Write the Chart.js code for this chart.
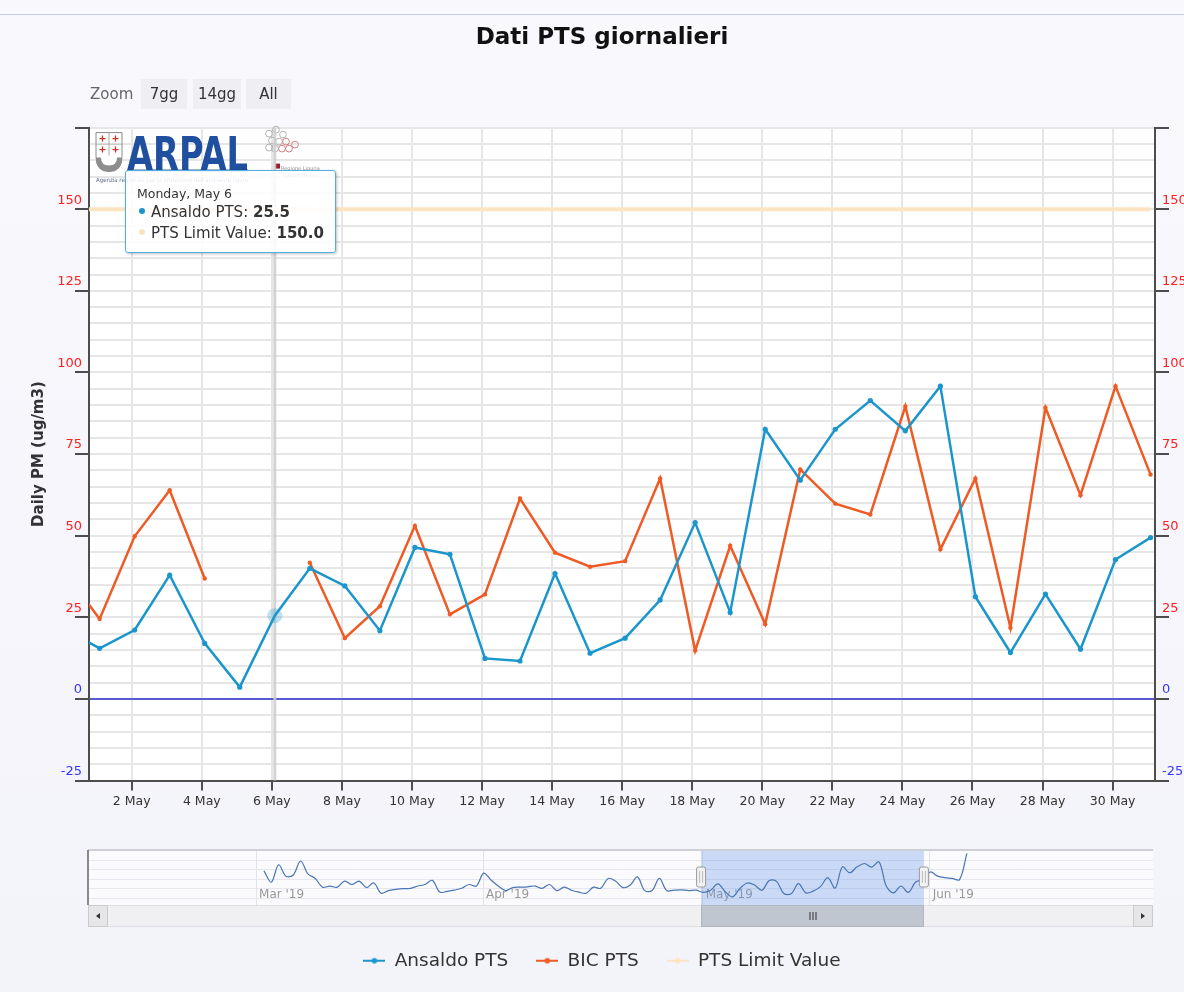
<!DOCTYPE html>
<html>
<head>
<meta charset="utf-8">
<script src="https://cdn.jsdelivr.net/npm/chart.js@4.4.1/dist/chart.umd.min.js"></script>
<style>
html,body{margin:0;padding:0;}
body{width:1184px;height:992px;overflow:hidden;position:relative;
  background:linear-gradient(180deg,#f9f9fd 0%,#f3f3fa 100%);font-family:"DejaVu Sans",sans-serif;}
#topline{position:absolute;left:0;top:14px;width:1184px;height:1px;background:#c5d0e6;}
#main{position:absolute;left:0;top:0;}
#nav{position:absolute;left:0;top:845px;}
.zoomlbl{position:absolute;left:90px;top:84px;font-size:15px;line-height:20px;color:#666;}
.zbtn{position:absolute;top:79px;height:30px;line-height:30px;background:#efeff3;color:#333;font-size:15px;text-align:center;}
#tip{position:absolute;display:none;border:1px solid #4fb0e0;border-radius:3px;background:rgba(255,255,255,0.86);
  box-shadow:1px 1px 3px rgba(0,0,0,0.25);padding:15px 11px 8px 11px;color:#333;white-space:nowrap;}
#tip .hd{font-size:12.5px;line-height:16px;}
#tip .row{font-size:15px;line-height:21px;}
#tip .dot{display:inline-block;width:6px;height:6px;border-radius:50%;margin:0 6px 2px 2px;vertical-align:middle;}
</style>
</head>
<body>
<div id="topline"></div>
<canvas id="main" width="1184" height="992"></canvas>
<canvas id="nav" width="1184" height="87"></canvas>
<div class="zoomlbl">Zoom</div>
<div class="zbtn" style="left:141px;width:46px;">7gg</div>
<div class="zbtn" style="left:193px;width:48px;">14gg</div>
<div class="zbtn" style="left:246px;width:45px;">All</div>
<div id="tip"></div>
<script>
// ---------------- data (day 0 = 30 Apr 2019, day n = n May 2019) ----------------
const DAYS = [0,1,2,3,4,5,6,7,8,9,10,11,12,13,14,15,16,17,18,19,20,21,22,23,24,25,26,27,28,29,30,31];
const ANSALDO_PTS = [21.3,15.5,21.1,37.9,17.0,3.6,25.5,40.0,34.6,20.9,46.4,44.3,12.4,11.6,38.4,14.0,
                     18.6,30.3,54.0,26.5,82.6,67.0,82.6,91.4,82.1,95.8,31.3,14.2,32.1,15.2,42.7,49.4];
const BIC_PTS = [39.0,24.5,49.8,63.9,36.9,null,null,41.7,18.6,28.4,53.0,25.9,32.0,61.4,44.8,40.5,
                 42.2,67.5,14.8,46.9,22.9,70.3,59.8,56.5,89.6,45.8,67.5,21.8,89.2,62.4,95.8,68.7];
const PTS_LIMIT = [150,150,150,150,150,150,150,150,150,150,150,150,150,150,150,150,
                   150,150,150,150,150,150,150,150,150,150,150,150,150,150,150,150];
const SERIES_NAMES = ['Ansaldo PTS','BIC PTS','PTS Limit Value'];
const X_TICK_DAYS = [2,4,6,8,10,12,14,16,18,20,22,24,26,28,30];
const X_MIN = 0.78, X_MAX = 31.21;          // visible zoom window (days)
const HOUR_SHIFT = 2/24;                    // readings stamped at 02:00 local
const HOVER_DAY = 6;
// navigator: Ansaldo daily values 2 Mar .. 29 Apr, then the May window above, then 1..6 Jun
const NAV_FIRST_DAY = -59;                  // 2 Mar 2019
const NAV_MAR_APR = [72,42,88,58,61,98,64,52,29,32,29,45,36,45,28,40,13,20,23,25,26,32,36,47,16,18,21,26,36,32,
                     66,48,32,20,28,29,30,32,26,36,20,29,21,16,13,29,26,52,45,28,34,56,20,20,52,20,21,22,20];
const NAV_JUNE = [69,58,54,52,49,118];
const NAV_MONTH_DAYS = [-60,-29,1,32];
const NAV_MONTH_LABELS = ["Mar '19","Apr '19","May '19","Jun '19"];
const NAV_MIN = -82.95, NAV_MAX = 62.5;

// ---------------- styles ----------------
Chart.defaults.font.family = '"DejaVu Sans", sans-serif';
const BLUE='#1b96cc', ORANGE='#ef5b25', LIMIT_COL='#fde3c0', ZERO_COL='#5a5ad2',
      GRID='#e6e6e6', AXIS='#4d4d4d', LBL_RED='#ff2020', LBL_BLUE='#3535ff';
const MONTHS=['Jan','Feb','Mar','Apr','May','Jun','Jul','Aug','Sep','Oct','Nov','Dec'];
const WEEKDAYS=['Sunday','Monday','Tuesday','Wednesday','Thursday','Friday','Saturday'];

function legendSymbol(color){
  const c=document.createElement('canvas'); c.width=22; c.height=10;
  const g=c.getContext('2d');
  g.strokeStyle=color; g.lineWidth=2; g.beginPath(); g.moveTo(0,5); g.lineTo(22,5); g.stroke();
  g.fillStyle=color; g.beginPath(); g.arc(11,5,2.8,0,Math.PI*2); g.fill();
  return c;
}
const LEGEND_SYMBOLS=[legendSymbol(BLUE),legendSymbol(ORANGE),legendSymbol(LIMIT_COL)];

const toPoints = vals => DAYS.map((d,i)=>({x:d+HOUR_SHIFT, y:vals[i]}));

const plotBg = { id:'plotBg', beforeDraw(chart){ const {ctx,chartArea:a}=chart; ctx.save(); ctx.fillStyle='#fff';
  ctx.fillRect(a.left,a.top,a.right-a.left,a.bottom-a.top); ctx.restore(); } };

const logo = { id:'logo', beforeDatasetsDraw(chart){
  const {ctx,chartArea:a}=chart; const x0=a.left, y0=a.top;
  ctx.save(); ctx.translate(x0+7,y0+5);
  ctx.lineWidth=1; ctx.strokeStyle='#8a8a8a'; ctx.fillStyle='#fff';
  ctx.beginPath(); ctx.moveTo(0,0); ctx.lineTo(26,0); ctx.lineTo(26,24); ctx.quadraticCurveTo(26,39,13,39);
  ctx.quadraticCurveTo(0,39,0,24); ctx.closePath(); ctx.fill(); ctx.stroke();
  ctx.strokeStyle='#aaa'; ctx.beginPath(); ctx.moveTo(13,0); ctx.lineTo(13,23); ctx.moveTo(0,11.5); ctx.lineTo(26,11.5); ctx.stroke();
  ctx.strokeStyle='#c0392b'; ctx.lineWidth=1.3;
  [[6.5,6],[19.5,6],[6.5,17],[19.5,17]].forEach(([cx,cy])=>{ctx.beginPath();ctx.moveTo(cx-3,cy);ctx.lineTo(cx+3,cy);ctx.moveTo(cx,cy-3);ctx.lineTo(cx,cy+3);ctx.stroke();});
  ctx.fillStyle='#8d8d8d'; ctx.beginPath(); ctx.moveTo(0,25); ctx.quadraticCurveTo(0,39,13,39); ctx.quadraticCurveTo(26,39,26,25);
  ctx.lineTo(21,25); ctx.quadraticCurveTo(21,33,13,33); ctx.quadraticCurveTo(5,33,5,25); ctx.closePath(); ctx.fill();
  ctx.restore();
  ctx.save(); ctx.font='bold 46px "DejaVu Sans"'; const m=ctx.measureText('ARPAL');
  const capTop = m.actualBoundingBoxAscent || 34;
  ctx.translate(x0+38,y0+8+capTop); ctx.scale(121/m.width,1); ctx.fillStyle='#1f4f9e'; ctx.fillText('ARPAL',0,0); ctx.restore();
  ctx.save(); ctx.fillStyle='#1f4f9e'; ctx.fillRect(x0+38,y0+42,121,2); ctx.restore();
  ctx.save(); ctx.font='6px "DejaVu Sans"'; ctx.fillStyle='#5a6a8a';
  ctx.fillText("Agenzia regionale per la protezione dell'ambiente ligure", x0+7, y0+53, 152); ctx.restore();
  ctx.save(); ctx.lineWidth=0.9;
  [[180,6,'#aaa'],[187,2,'#aaa'],[194,7,'#aaa'],[183,13,'#aaa'],[190,14,'#aaa'],[197,14,'#c77'],[186,21,'#aaa'],
   [193,21,'#c77'],[200,21,'#c77'],[206,17,'#c77'],[180,20,'#aaa']].forEach(([cx,cy,col])=>{
    ctx.strokeStyle=col; ctx.beginPath(); ctx.arc(x0+cx,y0+cy,3.4,0,Math.PI*2); ctx.stroke(); });
  ctx.fillStyle='#9b1b30'; ctx.fillRect(x0+186,y0+36,5,5);
  ctx.font='5px "DejaVu Sans"'; ctx.fillStyle='#999'; ctx.fillText('Regione Liguria', x0+192, y0+41, 45);
  ctx.fillText('Dipartimento', x0+196, y0+48, 35);
  ctx.restore();
} };

const crosshair = { id:'crosshair', beforeDatasetsDraw(chart){
  const act=chart.getActiveElements(); if(!act.length) return;
  const {ctx,chartArea:a}=chart; const x=act[0].element.x;
  ctx.save(); ctx.strokeStyle='rgba(204,204,204,0.85)'; ctx.lineWidth=3;
  ctx.beginPath(); ctx.moveTo(x,a.top); ctx.lineTo(x,a.bottom); ctx.stroke(); ctx.restore(); } };

function externalTip(context){
  const {chart, tooltip} = context; const el=document.getElementById('tip');
  if(!tooltip.dataPoints || !tooltip.dataPoints.length){ el.style.display='none'; return; }
  const day = tooltip.dataPoints[0].raw.x - HOUR_SHIFT;
  const dt = new Date(2019,3,30+Math.round(day));
  let html = '<div class="hd">'+WEEKDAYS[dt.getDay()]+', '+MONTHS[dt.getMonth()]+' '+dt.getDate()+'</div>';
  tooltip.dataPoints.forEach(dp=>{
    html += '<div class="row"><span class="dot" style="background:'+dp.dataset.borderColor+'"></span>'+
            dp.dataset.label+': <b>'+dp.raw.y.toFixed(1)+'</b></div>';
  });
  el.innerHTML=html; el.style.display='block';
  el.style.left=(chart.chartArea.left+36)+'px'; el.style.top=(chart.chartArea.top+42)+'px';
}

function yAxis(side){
  return {
    type:'linear', position:side, min:-25, max:175,
    afterFit: s => { s.width = side==='left' ? 69 : 29; },
    ticks:{ stepSize:5, autoSkip:false, includeBounds:false,
      callback: v => (v%25===0 && v<175) ? String(v) : '',
      color: c => c.tick.value>0 ? LBL_RED : LBL_BLUE,
      font:{size:13}, labelOffset:-9, padding:-7 },
    grid:{ drawOnChartArea: side==='left',
      color: c => c.tick.value===0 ? ZERO_COL : GRID, lineWidth:2,
      tickLength:14, tickColor: c => c.tick.value%25===0 ? AXIS : 'rgba(0,0,0,0)' },
    border:{ color:AXIS, width:2 },
    title: side==='left' ? { display:true, text:'Daily PM (ug/m3)', color:'#333',
      font:{size:15, weight:'bold'}, padding:{top:10,bottom:0} } : { display:false }
  };
}

const mainChart = new Chart(document.getElementById('main'), {
  type:'line',
  data:{ datasets:[
    { label:SERIES_NAMES[0], data:toPoints(ANSALDO_PTS), borderColor:BLUE, backgroundColor:BLUE, borderWidth:2.5,
      pointRadius:2.6, pointBorderWidth:0, pointBackgroundColor:BLUE, pointHoverRadius:7.5,
      pointHoverBackgroundColor:'rgba(27,150,204,0.28)', pointHoverBorderWidth:0, yAxisID:'y' },
    { label:SERIES_NAMES[1], data:toPoints(BIC_PTS), borderColor:ORANGE, backgroundColor:ORANGE, borderWidth:2.5,
      pointRadius:2.2, pointBorderWidth:0, pointBackgroundColor:ORANGE, spanGaps:false, yAxisID:'y' },
    { label:SERIES_NAMES[2], data:toPoints(PTS_LIMIT), borderColor:LIMIT_COL, backgroundColor:LIMIT_COL, borderWidth:4,
      pointRadius:0, pointHoverRadius:0, yAxisID:'y' }
  ]},
  options:{
    responsive:false, animation:false, events:[],
    layout:{ padding:{ left:20, right:0, top:0, bottom:12 } },
    scales:{
      x:{ type:'linear', min:X_MIN, max:X_MAX,
        afterBuildTicks: s => { s.ticks = X_TICK_DAYS.map(v=>({value:v})); },
        afterFit: s => { s.height = 143; },
        ticks:{ callback: v => v+' May', color:'#333', font:{size:12.5}, maxRotation:0, autoSkip:false, padding:4 },
        grid:{ color:GRID, lineWidth:2, tickLength:10, tickColor:AXIS },
        border:{ color:AXIS, width:2 } },
      y: yAxis('left'),
      y2: yAxis('right')
    },
    plugins:{
      title:{ display:true, text:'Dati PTS giornalieri', color:'#111', font:{size:23, weight:'bold'},
        padding:{top:24, bottom:76} },
      legend:{ position:'bottom', labels:{ usePointStyle:true, pointStyleWidth:22, padding:28, color:'#333',
        font:{size:18.5},
        generateLabels: chart => Chart.defaults.plugins.legend.labels.generateLabels(chart)
          .map((it,i)=>Object.assign(it,{pointStyle:LEGEND_SYMBOLS[i]})) } },
      tooltip:{ enabled:false, external: externalTip }
    }
  },
  plugins:[plotBg, logo, crosshair]
});

// hover state on 6 May, as in the reference snapshot
const hIdx = DAYS.indexOf(HOVER_DAY);
mainChart.setActiveElements([{datasetIndex:0,index:hIdx}]);
const hp = mainChart.getDatasetMeta(0).data[hIdx];
mainChart.tooltip.setActiveElements([{datasetIndex:0,index:hIdx},{datasetIndex:2,index:hIdx}], {x:hp.x, y:hp.y});
mainChart.draw();

// ---------------- navigator ----------------
const navVals = NAV_MAR_APR.concat(ANSALDO_PTS, NAV_JUNE);
const navPoints = navVals.map((v,i)=>({x:NAV_FIRST_DAY+i+HOUR_SHIFT, y:v}));

const navDecor = { id:'navDecor',
  beforeDraw(chart){ const {ctx,chartArea:a}=chart; ctx.save(); ctx.fillStyle='rgba(255,255,255,0.6)';
    ctx.fillRect(a.left,a.top,a.right-a.left,a.bottom-a.top); ctx.restore(); },
  beforeDatasetsDraw(chart){ const {ctx,chartArea:a,scales:{x}}=chart;
    ctx.save();
    ctx.font='12px "DejaVu Sans"'; ctx.fillStyle='#999'; ctx.textBaseline='middle'; ctx.textAlign='left';
    NAV_MONTH_DAYS.forEach((d,i)=>ctx.fillText(NAV_MONTH_LABELS[i], x.getPixelForValue(d)+3, a.bottom-10));
    const l=x.getPixelForValue(X_MIN), r=x.getPixelForValue(X_MAX);
    ctx.fillStyle='rgba(102,153,230,0.33)'; ctx.fillRect(l,a.top,r-l,a.bottom-a.top); ctx.restore(); },
  afterDraw(chart){ const {ctx,chartArea:a,scales:{x}}=chart;
    const l=x.getPixelForValue(X_MIN), r=x.getPixelForValue(X_MAX);
    ctx.save();
    ctx.strokeStyle='#cfcfd6'; ctx.lineWidth=2; ctx.beginPath(); ctx.moveTo(a.left,a.top); ctx.lineTo(a.right,a.top); ctx.stroke();
    ctx.strokeStyle='#666'; ctx.lineWidth=1.5; ctx.beginPath(); ctx.moveTo(a.left,a.top); ctx.lineTo(a.left,a.bottom); ctx.stroke();
    [l,r].forEach(px=>{ ctx.fillStyle='#f2f2f2'; ctx.strokeStyle='#999'; ctx.lineWidth=1;
      ctx.beginPath(); ctx.roundRect(px-4.5,a.top+17,9,20,2); ctx.fill(); ctx.stroke();
      ctx.strokeStyle='#bbb'; ctx.beginPath(); ctx.moveTo(px-1.5,a.top+21); ctx.lineTo(px-1.5,a.top+33);
      ctx.moveTo(px+1.5,a.top+21); ctx.lineTo(px+1.5,a.top+33); ctx.stroke(); });
    const sy=a.bottom, sh=22;
    ctx.fillStyle='#f0f0f2'; ctx.fillRect(a.left,sy,a.right-a.left,sh);
    ctx.strokeStyle='#e0e0e4'; ctx.lineWidth=1; ctx.strokeRect(a.left+0.5,sy+0.5,a.right-a.left-1,sh-1);
    ctx.fillStyle='#bfc6d0'; ctx.fillRect(l,sy,r-l,sh);
    ctx.strokeStyle='#b0b6c0'; ctx.strokeRect(l+0.5,sy+0.5,r-l-1,sh-1);
    ctx.strokeStyle='#333'; const mx=(l+r)/2; ctx.beginPath();
    [-3,0,3].forEach(o=>{ctx.moveTo(mx+o+0.5,sy+7); ctx.lineTo(mx+o+0.5,sy+15);}); ctx.stroke();
    [[a.left,1],[a.right-20,-1]].forEach(([bx,dir])=>{
      ctx.fillStyle='#e6e6e8'; ctx.fillRect(bx,sy,20,sh); ctx.strokeStyle='#cccccc'; ctx.strokeRect(bx+0.5,sy+0.5,19,sh-1);
      ctx.fillStyle='#333'; ctx.beginPath(); const cx=bx+10, cy=sy+11;
      ctx.moveTo(cx-2*dir,cy); ctx.lineTo(cx+2*dir,cy-3); ctx.lineTo(cx+2*dir,cy+3); ctx.closePath(); ctx.fill(); });
    ctx.restore(); } };

new Chart(document.getElementById('nav'), {
  type:'line',
  data:{ datasets:[{ data:navPoints, borderColor:'#4a76b4', borderWidth:1.2, pointRadius:0, tension:0.35, fill:false }]},
  options:{
    responsive:false, animation:false, events:[],
    layout:{ padding:{ left:88, right:31, top:5, bottom:27 } },
    plugins:{ legend:{display:false}, tooltip:{enabled:false}, title:{display:false} },
    scales:{
      x:{ type:'linear', min:NAV_MIN, max:NAV_MAX,
        afterBuildTicks: s => { s.ticks = NAV_MONTH_DAYS.map(v=>({value:v})); },
        afterFit: s => { s.height = 0; },
        ticks:{ display:false },
        grid:{ color:'#e2e2ea', drawTicks:false, lineWidth:1 }, border:{display:false} },
      y:{ min:-18, max:127,
        afterBuildTicks: s => { s.ticks = [0,25,50,75,100,125].map(v=>({value:v})); },
        afterFit: s => { s.width = 0; },
        ticks:{ display:false }, grid:{ color:'#e6e6ee', drawTicks:false, lineWidth:1 }, border:{display:false} }
    }
  },
  plugins:[navDecor]
});
</script>
</body>
</html>
